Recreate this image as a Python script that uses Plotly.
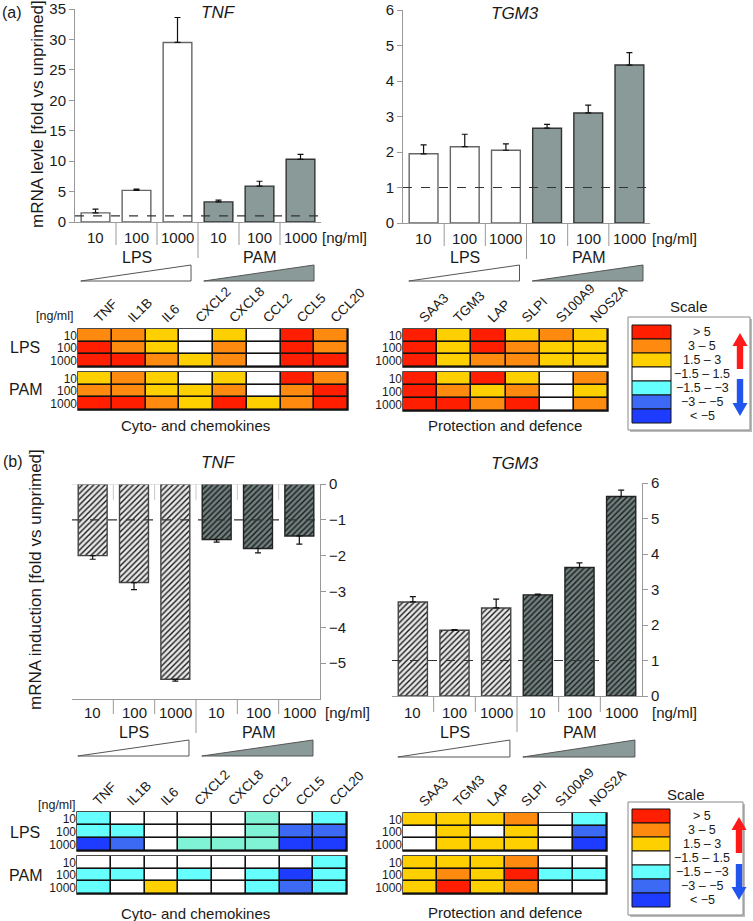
import plotly.graph_objects as go

# ---------------- data ----------------
dose_labels = ["10", "100", "1000", "10", "100", "1000"]
group_names = ["LPS", "PAM"]
doses = ["10", "100", "1000"]

# (a) mRNA level [fold vs unprimed]
tnf_a = [1.5, 5.2, 29.5, 3.3, 5.9, 10.3]
tnf_a_err = [0.6, 0.2, 4.1, 0.3, 0.8, 0.8]
tgm3_a = [1.95, 2.15, 2.05, 2.67, 3.1, 4.45]
tgm3_a_err = [0.25, 0.35, 0.18, 0.11, 0.22, 0.35]

# (b) mRNA induction [fold vs unprimed]
tnf_b = [-2.0, -2.75, -5.45, -1.55, -1.8, -1.45]
tnf_b_err = [0.1, 0.2, 0.05, 0.07, 0.12, 0.23]
tgm3_b = [2.65, 1.85, 2.48, 2.85, 3.62, 5.62]
tgm3_b_err = [0.15, 0.02, 0.25, 0.02, 0.13, 0.18]

cyto_genes = ["TNF", "IL1B", "IL6", "CXCL2", "CXCL8", "CCL2", "CCL5", "CCL20"]
prot_genes = ["SAA3", "TGM3", "LAP", "SLPI", "S100A9", "NOS2A"]

# class codes: 3 (>5), 2 (3-5), 1 (1.5-3), 0 (-1.5-1.5), -1 (-1.5--3), -2 (-3--5), -3 (<-5), 4 (-1.5--3, green tint)
cyto_a_lps = [[2, 2, 1, 0, 1, 0, 3, 2],
              [3, 2, 1, 0, 2, 0, 3, 2],
              [3, 3, 2, 1, 2, 0, 3, 3]]
cyto_a_pam = [[1, 2, 1, 0, 1, 0, 3, 2],
              [2, 2, 1, 1, 2, 0, 2, 3],
              [3, 3, 2, 1, 3, 1, 2, 3]]
prot_a_lps = [[3, 1, 3, 1, 2, 1],
              [3, 1, 3, 2, 1, 1],
              [3, 1, 2, 2, 1, 1]]
prot_a_pam = [[3, 1, 3, 1, 0, 2],
              [3, 2, 1, 2, 0, 1],
              [3, 3, 2, 3, 0, 2]]
cyto_b_lps = [[-1, 0, 0, 0, 0, 4, 0, -1],
              [-1, -1, 0, 0, 0, 4, -2, -2],
              [-3, -2, 0, 4, 4, 4, -3, -3]]
cyto_b_pam = [[0, 0, 0, 0, 0, 0, 0, -1],
              [-1, -1, 0, -1, 0, -1, -3, -1],
              [-1, 0, 1, 0, 0, -1, -2, -1]]
prot_b_lps = [[1, 1, 1, 2, 0, -1],
              [0, 1, 0, 1, 0, -2],
              [0, 1, 1, 1, 0, -3]]
prot_b_pam = [[1, 1, 1, 2, 0, 0],
              [1, 2, 1, 3, -1, -1],
              [1, 3, 1, 2, 0, 0]]

scale_labels = ["> 5", "3 – 5", "1.5 – 3", "−1.5 – 1.5", "−1.5 – −3", "−3 – −5", "< −5"]
scale_codes = [3, 2, 1, 0, -1, -2, -3]

# ---------------- styling ----------------
W, H = 753, 921
FONT = "Liberation Sans, Arial, Helvetica, sans-serif"
code_color = {3: "#ff1e00", 2: "#ff8a10", 1: "#ffd000", 0: "#ffffff",
              -1: "#66ffff", -2: "#3d6af5", -3: "#1e3cff", 4: "#80f2d6"}
code_order = [3, 2, 1, 0, -1, -2, -3, 4]
n_cls = len(code_order)
colorscale = []
for i, c in enumerate(code_order):
    colorscale.append([i / n_cls, code_color[c]])
    colorscale.append([(i + 1) / n_cls, code_color[c]])

LPS_FILL, PAM_FILL = "#ffffff", "#8a9a98"
LPS_HATCH_BG, PAM_HATCH_BG = "#e8e8e8", "#6f807e"
AXC = "#999999"


def X(p):
    return p / W


def Y(p):
    return 1 - p / H


fig = go.Figure()
shapes, annots = [], []
layout = {}


def ax_names(n):
    s = "" if n == 1 else str(n)
    return "xaxis" + s, "yaxis" + s, "x" + s, "y" + s


def bar_chart(n, vals, errs, xd, yd, rng, tickvals, side, hatch, ref,
              lab_y, ng_x, sep_y1, div_y1, grp_y, tri, err_down=False,
              top_seps=False):
    xa, ya, xr, yr = ax_names(n)
    pos = list(range(len(vals)))
    half = len(vals) // 2
    for g in range(2):
        idx = pos[g * half:(g + 1) * half]
        fill = (LPS_HATCH_BG if g == 0 else PAM_HATCH_BG) if hatch else (LPS_FILL if g == 0 else PAM_FILL)
        lc = ("#666666" if g == 0 else "#333333") if not hatch else ("#444444" if g == 0 else "#222222")
        marker = dict(color=fill, line=dict(color=lc, width=1.4))
        if hatch:
            marker["pattern"] = dict(shape="/", fgcolor="#1a1a1a", bgcolor=fill,
                                     size=4, solidity=0.35)
        ev = [errs[i] for i in idx]
        zeros = [0] * len(idx)
        fig.add_trace(go.Bar(
            x=idx, y=[vals[i] for i in idx], width=0.7, marker=marker,
            error_y=dict(type="data", symmetric=False,
                         array=zeros if err_down else ev,
                         arrayminus=ev if err_down else zeros,
                         color="#111111", thickness=1.2, width=3),
            xaxis=xr, yaxis=yr, hoverinfo="skip"))
    layout[xa] = dict(domain=[X(xd[0]), X(xd[1])], range=[-0.5, len(vals) - 0.5],
                      showline=True, linecolor=AXC, linewidth=1, showticklabels=False,
                      ticks="", showgrid=False, zeroline=False, anchor=yr, fixedrange=True,
                      automargin=False)
    layout[ya] = dict(domain=[Y(yd[1]), Y(yd[0])], range=rng, tickvals=tickvals,
                      side=side, showline=True, linecolor=AXC, linewidth=1,
                      ticks="outside", ticklen=5, tickcolor=AXC, showgrid=False,
                      zeroline=False, anchor=xr, tickfont=dict(size=15), fixedrange=True,
                      automargin=False)
    # reference dashed line
    shapes.append(dict(type="line", xref=xr + " domain", yref=yr, x0=0, x1=1, y0=ref, y1=ref,
                       line=dict(color="#333333", width=1.2, dash="dash")))
    # category labels and separators
    for i, lab in enumerate(dose_labels):
        annots.append(dict(x=i, y=Y(lab_y), xref=xr, yref="paper", text=lab, showarrow=False,
                           font=dict(size=15), xanchor="center", yanchor="middle"))
    for i in range(len(vals) - 1):
        y1 = div_y1 if i == half - 1 else sep_y1
        shapes.append(dict(type="line", xref=xr, yref="paper", x0=i + 0.5, x1=i + 0.5,
                           y0=Y(yd[1]), y1=Y(y1), line=dict(color=AXC, width=1)))
        if top_seps:
            shapes.append(dict(type="line", xref=xr, yref=yr, x0=i + 0.5, x1=i + 0.5,
                               y0=0, y1=-0.45, line=dict(color="#c8c8c8", width=1)))
    annots.append(dict(x=X(ng_x), y=Y(lab_y), xref="paper", yref="paper", text="[ng/ml]",
                       showarrow=False, font=dict(size=15), xanchor="center", yanchor="middle"))
    for g, name in enumerate(group_names):
        annots.append(dict(x=g * half + (half - 1) / 2, y=Y(grp_y), xref=xr, yref="paper",
                           text=name, showarrow=False, font=dict(size=16),
                           xanchor="center", yanchor="middle"))
    # concentration triangles
    t0, t1 = tri
    for g, (a, b) in enumerate([(-0.36, 2.33), (2.64, 5.33)]):
        path = f"M {a},{Y(t1)} L {b},{Y(t1)} L {b},{Y(t0)} Z"
        shapes.append(dict(type="path", xref=xr, yref="paper", path=path,
                           fillcolor=LPS_FILL if g == 0 else PAM_FILL,
                           line=dict(color="#555555", width=1)))


def heatmap(n, genes, rows, xd, yd, top_labels):
    xa, ya, xr, yr = ax_names(n)
    z = [[code_order.index(c) for c in row] for row in rows]
    fig.add_trace(go.Heatmap(z=z, x=genes, y=doses, colorscale=colorscale, zmin=0, zmax=n_cls,
                             showscale=False, xgap=1.6, ygap=1.6, hoverinfo="skip",
                             xaxis=xr, yaxis=yr))
    layout[xa] = dict(domain=[X(xd[0]), X(xd[1])], side="top", showticklabels=top_labels,
                      type="category", tickmode="array", tickvals=genes, ticktext=genes,
                      tickangle=-45, ticks="", showgrid=False, zeroline=False,
                      anchor=yr, tickfont=dict(size=13.5), fixedrange=True, showline=False,
                      automargin=False)
    layout[ya] = dict(domain=[Y(yd[1]), Y(yd[0])], type="category", autorange="reversed",
                      tickmode="array", tickvals=doses, ticktext=doses,
                      ticks="", showgrid=False, zeroline=False, anchor=xr,
                      tickfont=dict(size=12), fixedrange=True, showline=False,
                      automargin=False)
    shapes.append(dict(type="rect", xref=xr + " domain", yref=yr + " domain", x0=0, x1=1,
                       y0=0, y1=1, fillcolor="#111111", line=dict(color="#111111", width=1.4),
                       layer="below"))


def scale_box(bx0, by0, bx1, by1, title_y, sw_x0, sw_x1, sw_y0, row_h, lab_x, arr_x,
              up, dn):
    shapes.append(dict(type="rect", xref="paper", yref="paper", x0=X(bx0 + 2), x1=X(bx1 + 2),
                       y0=Y(by1 + 2), y1=Y(by0 + 2), fillcolor="#bbbbbb", line=dict(width=0)))
    shapes.append(dict(type="rect", xref="paper", yref="paper", x0=X(bx0), x1=X(bx1),
                       y0=Y(by1), y1=Y(by0), fillcolor="white", line=dict(color="#888888", width=1)))
    annots.append(dict(x=X((bx0 + bx1) / 2), y=Y(title_y), xref="paper", yref="paper",
                       text="Scale", showarrow=False, font=dict(size=15),
                       xanchor="center", yanchor="middle"))
    for i, (lab, code) in enumerate(zip(scale_labels, scale_codes)):
        ya, yb = sw_y0 + i * row_h, sw_y0 + (i + 1) * row_h
        shapes.append(dict(type="rect", xref="paper", yref="paper", x0=X(sw_x0), x1=X(sw_x1),
                           y0=Y(yb), y1=Y(ya), fillcolor=code_color[code],
                           line=dict(color="#111111", width=1)))
        annots.append(dict(x=X(lab_x), y=Y((ya + yb) / 2), xref="paper", yref="paper",
                           text=lab, showarrow=False, font=dict(size=12.5),
                           xanchor="center", yanchor="middle"))
    for (top, bot, col, upward) in [(up[0], up[1], "#ff1a1a", True), (dn[0], dn[1], "#2255ee", False)]:
        hw, sw, hl = 7.5, 3.2, 13
        cx = arr_x
        if upward:
            pts = [(cx, top), (cx + hw, top + hl), (cx + sw, top + hl), (cx + sw, bot),
                   (cx - sw, bot), (cx - sw, top + hl), (cx - hw, top + hl)]
        else:
            pts = [(cx, bot), (cx + hw, bot - hl), (cx + sw, bot - hl), (cx + sw, top),
                   (cx - sw, top), (cx - sw, bot - hl), (cx - hw, bot - hl)]
        path = "M " + " L ".join(f"{X(a)},{Y(b)}" for a, b in pts) + " Z"
        shapes.append(dict(type="path", xref="paper", yref="paper", path=path,
                           fillcolor=col, line=dict(width=0)))


# ---------------- panel (a) ----------------
bar_chart(1, tnf_a, tnf_a_err, (75, 321), (9, 222), [0, 35], list(range(0, 36, 5)), "left",
          False, 1, 237, 344, 245, 258, 257, (265, 281))
bar_chart(2, tgm3_a, tgm3_a_err, (403, 650), (10, 223), [0, 6], list(range(0, 7)), "left",
          False, 1, 238, 674, 246, 259, 257, (265, 281))
heatmap(3, cyto_genes, cyto_a_lps, (78, 348), (329, 367), True)
heatmap(4, cyto_genes, cyto_a_pam, (78, 348), (372, 410), False)
heatmap(5, prot_genes, prot_a_lps, (403, 608), (329, 367), True)
heatmap(6, prot_genes, prot_a_pam, (403, 608), (372, 411), False)
scale_box(628, 317, 750, 430, 307, 632, 671, 325, 14, 702, 740, (333, 369), (379, 416))

# ---------------- panel (b) ----------------
bar_chart(7, tnf_b, tnf_b_err, (72, 320), (484, 699), [-6, 0], [0, -1, -2, -3, -4, -5], "right",
          True, -1, 712, 347, 714, 733, 732, (740, 756), err_down=True, top_seps=True)
bar_chart(8, tgm3_b, tgm3_b_err, (392, 642), (483, 696), [0, 6], list(range(0, 7)), "right",
          True, 1, 712, 674, 712, 732, 732, (740, 757))
heatmap(9, cyto_genes, cyto_b_lps, (77, 347), (812, 851), True)
heatmap(10, cyto_genes, cyto_b_pam, (77, 347), (856, 894), False)
heatmap(11, prot_genes, prot_b_lps, (403, 607), (813, 851), True)
heatmap(12, prot_genes, prot_b_pam, (403, 607), (856, 894), False)
scale_box(628, 802, 743, 915, 794, 632, 670, 809, 14, 702, 739, (817, 853), (864, 900))


# ---------------- text ----------------
def txt(x, y, s, size=15, angle=0, italic=False):
    annots.append(dict(x=X(x), y=Y(y), xref="paper", yref="paper", text=s, showarrow=False,
                       textangle=angle, xanchor="center", yanchor="middle",
                       font=dict(size=size, style="italic" if italic else "normal")))


txt(12, 12, "(a)", 16)
txt(13, 461, "(b)", 16)
txt(37, 114, "mRNA levle [fold vs unprimed]", 17, -90)
txt(35, 580, "mRNA induction [fold vs unprimed]", 17, -90)
txt(218, 12, "TNF", 17, italic=True)
txt(515, 13, "TGM3", 17, italic=True)
txt(218, 462, "TNF", 17, italic=True)
txt(515, 463, "TGM3", 17, italic=True)
txt(25, 348, "LPS", 16)
txt(25, 390, "PAM", 16)
txt(25, 832, "LPS", 16)
txt(25, 875, "PAM", 16)
txt(55, 316, "[ng/ml]", 12.5)
txt(57, 805, "[ng/ml]", 12.5)
txt(195, 425, "Cyto- and chemokines", 15)
txt(505, 425, "Protection and defence", 15)
txt(195, 913, "Cyto- and chemokines", 15)
txt(505, 912, "Protection and defence", 15)

# light top line of TNF (b) chart at 0
shapes.append(dict(type="line", xref="x7 domain", yref="y7", x0=0, x1=1, y0=0, y1=0,
                   line=dict(color="#d0d0d0", width=1)))

fig.update_layout(template="none", width=W, height=H,
                  margin=dict(l=0, r=0, t=0, b=0, autoexpand=False),
                  paper_bgcolor="white", plot_bgcolor="rgba(0,0,0,0)", showlegend=False,
                  barmode="overlay", font=dict(family=FONT, size=14, color="#1a1a1a"),
                  shapes=shapes, annotations=annots, **layout)
fig.write_html("out.html", config={"displayModeBar": False},
               post_script="document.body.style.margin='0';document.body.style.overflow='hidden';")
